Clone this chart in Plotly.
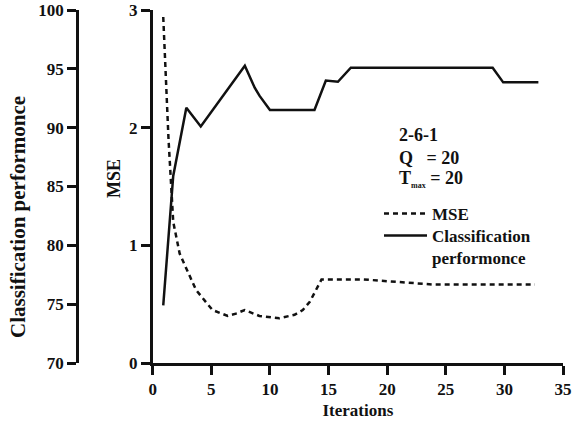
import plotly.graph_objects as go

# ---- data ----
mse_iter = [0.9, 1.35, 1.75, 2.3, 3.2, 3.7, 5.1, 6.4, 7.1, 7.85, 9.1, 10.8, 12.1,
            12.8, 13.4, 14.1, 14.4, 18.0, 21.6, 23.9, 32.6]
mse_vals = [2.94, 1.90, 1.20, 0.93, 0.73, 0.62, 0.45, 0.40, 0.42, 0.45, 0.40, 0.38,
            0.41, 0.45, 0.52, 0.65, 0.71, 0.71, 0.68, 0.667, 0.667]

cp_iter = [0.9, 1.75, 2.87, 4.1, 7.86, 8.7, 9.12, 10.0, 13.8, 14.77, 15.8, 16.9,
           29.0, 29.9, 32.9]
cp_vals = [74.9, 85.9, 91.7, 90.1, 95.26, 93.4, 92.7, 91.5, 91.5, 94.0, 93.9, 95.1,
           95.1, 93.85, 93.85]

x_ticks = [0, 5, 10, 15, 20, 25, 30, 35]
mse_ticks = [0, 1, 2, 3]
cp_ticks = [70, 75, 80, 85, 90, 95, 100]

FONT = "Liberation Serif"
INK = "#111111"

fig = go.Figure()
fig.add_trace(go.Scatter(
    x=mse_iter, y=mse_vals, name="MSE", mode="lines", legend="legend",
    line=dict(color=INK, width=2.5, dash="5px,4px"), yaxis="y"))
fig.add_trace(go.Scatter(
    x=cp_iter, y=cp_vals, name="Classification<br>performonce", mode="lines",
    legend="legend2", line=dict(color=INK, width=2.5), yaxis="y2"))

axis_common = dict(showline=True, linecolor=INK, linewidth=2.5, ticks="outside",
                   ticklen=9, tickwidth=2.5, tickcolor=INK, showgrid=False,
                   zeroline=False, automargin=False,
                   tickfont=dict(family=FONT, size=17, color=INK, weight="bold"))

W, H = 574, 426
ml, mr, mt, mb = 77, 11, 10, 63
pw = W - ml - mr
ph = H - mt - mb

def px_x(p):
    return (p - ml) / pw

def px_y(p):
    return 1 - (p - mt) / ph

leg_common = dict(xanchor="left", yanchor="top", bgcolor="rgba(0,0,0,0)",
                  itemwidth=43, valign="top",
                  font=dict(family=FONT, size=17, color=INK, weight="bold"))

fig.update_layout(
    template="none",
    width=W, height=H,
    margin=dict(l=ml, r=mr, t=mt, b=mb, autoexpand=False),
    paper_bgcolor="white", plot_bgcolor="white",
    font=dict(family=FONT, color=INK),
    xaxis=dict(range=[0, 35], tickvals=x_ticks, domain=[px_x(152.7), 1],
               title=dict(text="Iterations", standoff=6,
                          font=dict(family=FONT, size=17, color=INK, weight="bold")),
               anchor="y", **axis_common),
    yaxis=dict(range=[0, 3], tickvals=mse_ticks, anchor="x", **axis_common),
    yaxis2=dict(range=[70, 100], tickvals=cp_ticks, overlaying="y", anchor="free",
                position=0, side="left", **axis_common),
    showlegend=True,
    legend=dict(x=px_x(379), y=px_y(196), **leg_common),
    legend2=dict(x=px_x(379), y=px_y(218), **leg_common),
)

ann_font = dict(family=FONT, size=18, color=INK, weight="bold")
fig.add_annotation(text="Classification performonce", xref="paper", yref="paper",
                   x=px_x(17.5), y=px_y(217.5), textangle=-90, showarrow=False,
                   xanchor="center", yanchor="middle",
                   font=dict(family=FONT, size=21, color=INK, weight="bold"))
fig.add_annotation(text="MSE", xref="paper", yref="paper",
                   x=px_x(114), y=px_y(179), textangle=-90, showarrow=False,
                   xanchor="center", yanchor="middle",
                   font=dict(family=FONT, size=18, color=INK, weight="bold"))
fig.add_annotation(text="2-6-1", xref="paper", yref="paper", x=px_x(396.7),
                   y=px_y(135), xanchor="left", yanchor="middle", showarrow=False,
                   font=ann_font)
fig.add_annotation(text="Q\u00a0\u00a0\u00a0= 20", xref="paper", yref="paper",
                   x=px_x(396.7), y=px_y(158), xanchor="left", yanchor="middle",
                   showarrow=False, font=ann_font)
fig.add_annotation(text="T<sub><span style='font-size:8px'>max</span></sub> = 20",
                   xref="paper", yref="paper", x=px_x(396.7), y=px_y(179),
                   xanchor="left", yanchor="middle", showarrow=False, font=ann_font)

fig.write_html("out.html", config={"displayModeBar": False},
               post_script="document.body.style.margin='0';"
                           "document.documentElement.style.margin='0';")
